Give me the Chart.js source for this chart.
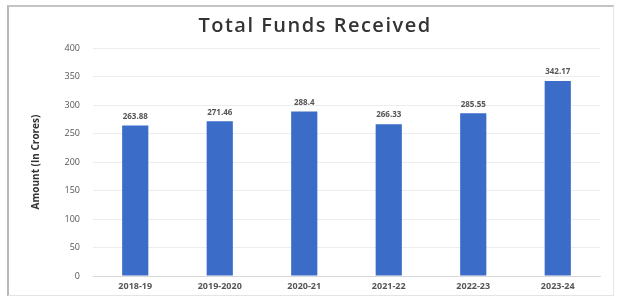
<!DOCTYPE html>
<html>
<head>
<meta charset="utf-8">
<script src="https://cdn.jsdelivr.net/npm/chart.js@4"></script>
<style>
  html, body { margin: 0; padding: 0; background: #fff; }
  #frame {
    position: absolute; left: 7px; top: 5px; width: 604px; height: 288px;
    border-left: 2px solid #b8b8b8; border-top: 2px solid #c4c4c4;
    border-right: 1px solid #e4e4e4; border-bottom: 1px solid #e4e4e4;
  }
  #wrap { position: absolute; left: 0; top: 0; width: 618px; height: 296px; }
</style>
</head>
<body>
<div id="frame"></div>
<div id="wrap"><canvas id="chart" width="618" height="296"></canvas></div>
<script>
var chartTitle = 'Total Funds Received';
var years = ['2018-19', '2019-2020', '2020-21', '2021-22', '2022-23', '2023-24'];
var funds = [263.88, 271.46, 288.4, 266.33, 285.55, 342.17];
var valueLabels = ['263.88', '271.46', '288.4', '266.33', '285.55', '342.17'];

// draws the numbers above each bar
var barValues = {
  id: 'barValues',
  afterDatasetsDraw: function (chart) {
    var ctx = chart.ctx;
    var meta = chart.getDatasetMeta(0);
    ctx.save();
    ctx.font = 'bold 8px "Open Sans"';
    ctx.fillStyle = '#555';
    ctx.textAlign = 'center';
    ctx.textBaseline = 'bottom';
    meta.data.forEach(function (bar, i) {
      ctx.fillText(valueLabels[i], bar.x, bar.y - 5);
    });
    ctx.restore();
  }
};

// wide-spaced title, the built-in one can't do letter spacing
var wideTitle = {
  id: 'wideTitle',
  afterDraw: function (chart) {
    var ctx = chart.ctx;
    ctx.save();
    ctx.font = '600 20px "Open Sans"';
    ctx.letterSpacing = '1.5px';
    ctx.fillStyle = '#333';
    ctx.textAlign = 'center';
    ctx.textBaseline = 'alphabetic';
    ctx.fillText(chartTitle, 315, 32);
    ctx.restore();
  }
};

var ctx = document.getElementById('chart').getContext('2d');
new Chart(ctx, {
  type: 'bar',
  data: {
    labels: years,
    datasets: [{
      data: funds,
      backgroundColor: '#3b6cc8',
      categoryPercentage: 1,
      barPercentage: 0.31
    }]
  },
  options: {
    responsive: false,
    animation: false,
    layout: { padding: { left: 30, right: 18, top: 48, bottom: 0 } },
    plugins: {
      legend: { display: false },
      tooltip: { enabled: false },
      title: { display: false }
    },
    scales: {
      x: {
        grid: { display: false, drawTicks: false },
        border: { color: '#d8d8d8' },
        ticks: { color: '#555', font: { family: '"Open Sans"', size: 9, weight: 'bold' }, padding: 5 },
        afterFit: function (scale) { scale.height = 20; }
      },
      y: {
        min: 0, max: 400,
        ticks: { stepSize: 50, color: '#555', font: { family: '"Open Sans"', size: 9 }, padding: 13 },
        grid: { color: '#ededed', drawTicks: false },
        border: { display: false },
        title: {
          display: true,
          text: 'Amount (In Crores)',
          color: '#333',
          font: { family: '"Open Sans"', size: 10, weight: 'bold' },
          padding: { top: 0, bottom: 8 }
        },
        afterFit: function (scale) { scale.width = 63; }
      }
    }
  },
  plugins: [barValues, wideTitle]
});
</script>
</body>
</html>
